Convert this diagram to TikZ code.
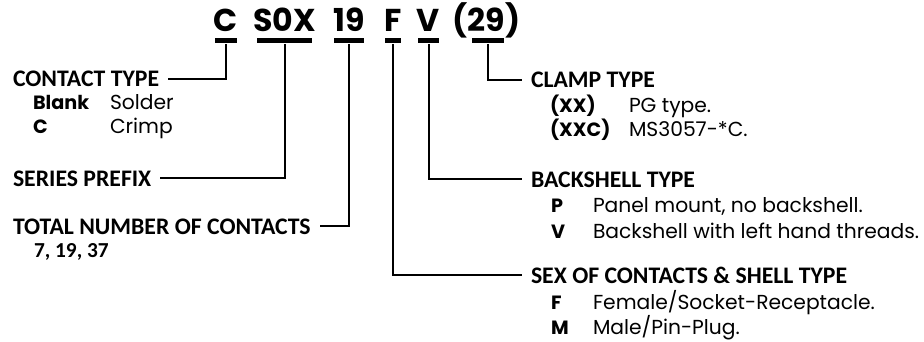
\documentclass[tikz,border=0pt]{standalone}
\usepackage{fontspec}
\setmainfont{Poppins}
\newfontfamily\hdfam{Carlito}
\usepackage{tikz}
\newcommand{\hdfont}{\hdfam\fontsize{17.8}{19}\selectfont\bfseries}
\newcommand{\bdfont}{\fontsize{15.2}{17}\selectfont}

\begin{document}
\begin{tikzpicture}[x=0.75pt,y=-0.75pt,line width=1.5pt,
  cd/.style={anchor=base,inner sep=0,font=\fontsize{23.7}{26}\selectfont\bfseries},
  bar/.style={fill=black,inner sep=0,minimum height=3.4pt,minimum width=#1*0.75pt},
  hd/.style={anchor=base west,inner xsep=6pt,inner ysep=0,font=\hdfont},
  key/.style={anchor=base west,inner sep=0,font=\fontsize{14.4}{16}\selectfont\bfseries},
  val/.style={anchor=base west,inner sep=0,font=\bdfont}]
  \useasboundingbox (0,0) rectangle (924,342);
  \foreach \n/\x/\t in {C/226/C, S/284.5/S0X, N/349/19, F/393/F, V/428.5/V, K/486.5/(29)}
    {\node[cd] (c\n) at (\x,32) {\t};}
  \foreach \n/\x/\w in {C/226/22, S/284.5/55, N/349/30, F/393/16, V/428.5/21, K/488/32}
    {\node[bar=\w] (b\n) at (\x,40.5) {};}
  \node[hd] (hC) at (4,86.7) {CONTACT TYPE};
  \node[hd] (hS) at (4,186) {SERIES PREFIX};
  \node[hd] (hN) at (4,234) {TOTAL NUMBER OF CONTACTS};
  \node[hd] (hK) at (522,87.5) {CLAMP TYPE};
  \node[hd] (hV) at (522,187) {BACKSHELL TYPE};
  \node[hd] (hF) at (522,283.5) {SEX OF CONTACTS \& SHELL TYPE};
  \draw (bC.south) |- (hC.east);
  \draw (bS.south) |- (hS.east);
  \draw (bN.south) |- (hN.east);
  \draw (bK.south) |- (hK.west);
  \draw (bV.south) |- (hV.west);
  \draw (bF.south) |- (hF.west);
  \foreach \i/\y/\k/\v in {1/110/Blank/Solder, 2/134/C/Crimp}
    {\node[key] (kC\i) at (32,\y) {\k}; \node[val] (vC\i) at (109,\y) {\v};}
  \node[key,font=\hdfam\fontsize{16}{18}\selectfont\bfseries] (kN1) at (33,257) {7, 19, 37};
  \foreach \i/\y/\k/\v in {1/113/(XX)/PG type., 2/137/(XXC)/MS3057-*C.}
    {\node[key] (kK\i) at (549,\y) {\k}; \node[val] (vK\i) at (628,\y) {\v};}
  \foreach \i/\y/\k/\v in {1/212/P/{Panel mount, no backshell.}, 2/238/V/Backshell with left hand threads.}
    {\node[key] (kV\i) at (550,\y) {\k}; \node[val] (vV\i) at (592,\y) {\v};}
  \foreach \i/\y/\k/\v in {1/309/F/{Female/Socket-Receptacle.}, 2/334/M/{Male/Pin-Plug.}}
    {\node[key] (kF\i) at (550,\y) {\k}; \node[val] (vF\i) at (592,\y) {\v};}
\end{tikzpicture}
\end{document}
